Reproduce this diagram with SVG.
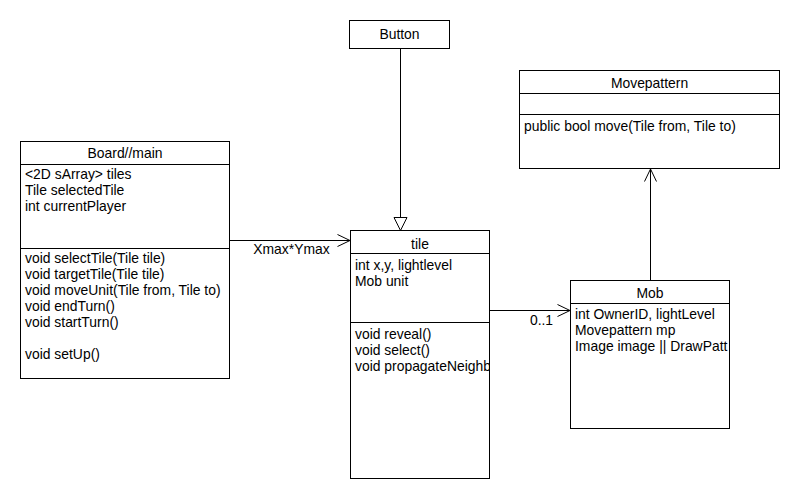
<svg xmlns="http://www.w3.org/2000/svg" width="800" height="500" viewBox="0 0 800 500">
<style>
.box{fill:#fff;stroke:#000;stroke-width:1}
.sep{stroke:#000;stroke-width:1}
text{font-family:"Liberation Sans",Arial,sans-serif;font-size:13.9px;fill:#000}
.c{text-anchor:middle}
.ln{fill:none;stroke:#000;stroke-width:1}
</style>
<defs>
<clipPath id="clipTile"><rect x="351" y="231" width="138" height="247"/></clipPath>
<clipPath id="clipMob"><rect x="571" y="281" width="158" height="147"/></clipPath>
</defs>
<rect width="800" height="500" fill="#fff"/>
<g id="connectors">
<line class="ln" x1="400.5" y1="48.5" x2="400.5" y2="217.5"/>
<polygon points="394,217.5 407,217.5 400.5,230.5" fill="#fff" stroke="#000"/>
<line class="ln" x1="229.5" y1="240.5" x2="350" y2="240.5"/>
<polyline class="ln" points="337.5,234.5 350,240.5 337.5,246.5"/>
<text x="291.5" y="253.5" class="c">Xmax*Ymax</text>
<line class="ln" x1="489.5" y1="310.5" x2="570" y2="310.5"/>
<polyline class="ln" points="557.5,304.5 570,310.5 557.5,316.5"/>
<text x="541.5" y="324.5" class="c">0..1</text>
<line class="ln" x1="650.5" y1="280" x2="650.5" y2="169"/>
<polyline class="ln" points="644.5,181.5 650.5,169 656.5,181.5"/>
</g>
<g id="button">
<rect class="box" x="349.5" y="20.5" width="100" height="28"/>
<text x="399.5" y="38.5" class="c">Button</text>
</g>
<g id="board">
<rect class="box" x="20.5" y="141.5" width="209" height="237"/>
<line class="sep" x1="20.5" y1="164.5" x2="229.5" y2="164.5"/>
<line class="sep" x1="20.5" y1="248.5" x2="229.5" y2="248.5"/>
<text x="125" y="158" class="c">Board//main</text>
<text x="25" y="178.5">&lt;2D sArray&gt; tiles</text>
<text x="25" y="194.5">Tile selectedTile</text>
<text x="25" y="210.5">int currentPlayer</text>
<text x="25" y="263">void selectTile(Tile tile)</text>
<text x="25" y="279">void targetTile(Tile tile)</text>
<text x="25" y="295">void moveUnit(Tile from, Tile to)</text>
<text x="25" y="311">void endTurn()</text>
<text x="25" y="327">void startTurn()</text>
<text x="25" y="359">void setUp()</text>
</g>
<g id="tile">
<rect class="box" x="350.5" y="230.5" width="139" height="248"/>
<line class="sep" x1="350.5" y1="253.5" x2="489.5" y2="253.5"/>
<line class="sep" x1="350.5" y1="322.5" x2="489.5" y2="322.5"/>
<text x="420" y="248.5" class="c">tile</text>
<g clip-path="url(#clipTile)">
<text x="355" y="269.5">int x,y, lightlevel</text>
<text x="355" y="285.5">Mob unit</text>
<text x="355" y="338.5">void reveal()</text>
<text x="355" y="354.5">void select()</text>
<text x="355" y="370.5">void propagateNeighb</text>
</g>
</g>
<g id="mob">
<rect class="box" x="570.5" y="280.5" width="159" height="148"/>
<line class="sep" x1="570.5" y1="303.5" x2="729.5" y2="303.5"/>
<text x="650" y="298" class="c">Mob</text>
<g clip-path="url(#clipMob)">
<text x="575" y="319">int OwnerID, lightLevel</text>
<text x="575" y="335">Movepattern mp</text>
<text x="575" y="351">Image image || DrawPatt</text>
</g>
</g>
<g id="movepattern">
<rect class="box" x="519.5" y="70.5" width="260" height="98"/>
<line class="sep" x1="519.5" y1="93.5" x2="779.5" y2="93.5"/>
<line class="sep" x1="519.5" y1="114.5" x2="779.5" y2="114.5"/>
<text x="649.5" y="88" class="c">Movepattern</text>
<text x="524" y="130.5">public bool move(Tile from, Tile to)</text>
</g>
</svg>
